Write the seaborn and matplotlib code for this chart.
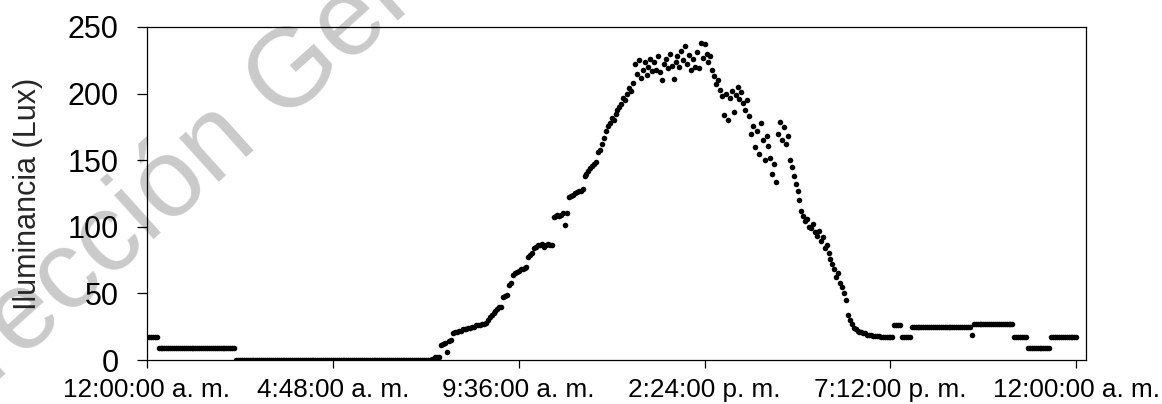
import numpy as np
import pandas as pd
import seaborn as sns
import matplotlib.pyplot as plt

interval_min = 3

lux_night = [17] * 6 + [9] * 40 + [0] * 101  # 0:00 - 7:18

lux_dawn = [1, 1, 2, 2, 2, 11, 12, 13, 6, 14, 15,
            20, 21, 21, 22, 22, 23, 23, 23, 24, 24, 25, 25, 26, 26, 26, 27, 27, 28,
            30, 32, 34, 35, 37, 38, 40, 40,
            47, 48, 49, 56, 58,
            64, 65, 66, 67, 68, 68, 69, 70,
            77, 79, 80]

lux_morning = [84, 85, 86, 86, 87, 85, 86, 87, 86, 86,
               107, 108, 109, 108, 109, 110, 101, 110,
               122, 123, 124, 125, 126, 127, 127, 128,
               138, 140, 142, 144, 146, 147, 149,
               156, 158, 162, 167,
               172, 176, 178, 182, 180, 185, 188, 190,
               192, 197, 195, 200, 204, 202, 208]

lux_peak = [222, 215, 225, 212, 218, 224, 214, 220, 226, 217,
            224, 218, 228, 216, 210, 222, 226, 219, 230, 221, 211, 224, 228,
            220, 232, 225, 236, 222, 229, 218, 226, 220, 231, 219, 238, 227,
            237, 230, 224, 228, 218, 213, 207, 210, 203]

lux_afternoon = [198, 184, 200, 180, 197, 202, 186, 199, 205, 196, 201, 193, 188, 195,
                 183, 170, 176, 160, 172, 155, 178, 165, 150, 168, 161,
                 152, 140, 147, 134,
                 170, 179, 165, 175, 162, 168,
                 150, 145, 138, 132, 127, 120,
                 112, 108, 104, 106, 100, 99, 102, 96, 93, 97, 89, 92, 84, 86,
                 80, 76, 72, 68, 62, 65, 58, 55, 50, 45, 34, 30, 27, 24, 23, 22]

lux_evening = ([21, 21, 20, 20, 19, 19, 19, 18, 18, 18, 18, 17, 17, 17, 17, 17, 17, 17]
               + [26] * 4 + [17] * 5 + [25] * 31 + [19] + [27] * 21
               + [17] * 7 + [9] * 12 + [17] * 14)

tick_hours = [0, 4.8, 9.6, 14.4, 19.2, 24]
tick_labels = ['12:00:00 a. m.', '4:48:00 a. m.', '9:36:00 a. m.',
               '2:24:00 p. m.', '7:12:00 p. m.', '12:00:00 a. m.']
y_ticks = [0, 50, 100, 150, 200, 250]

lux = lux_night + lux_dawn + lux_morning + lux_peak + lux_afternoon + lux_evening
df = pd.DataFrame({'lux': lux})
df['hora'] = np.arange(len(df)) * interval_min / 60

sns.set_style('white')
plt.rcParams['font.family'] = ['Liberation Sans', 'DejaVu Sans']

fig = plt.figure(figsize=(11.62, 4.04), dpi=100)
fig.patch.set_facecolor('white')
ax = fig.add_axes([0.1265, 0.1089, 0.8081, 0.8243])
ax.set_facecolor('none')

# watermark behind the chart (cut by the page edges, as in the source)
fig.text(-0.073, -0.126, 'Dirección General de Bibliotecas', fontsize=80,
         color='#cacaca', rotation=42, rotation_mode='anchor',
         ha='left', va='baseline', zorder=-1)

sns.scatterplot(data=df, x='hora', y='lux', color='black', s=16,
                linewidth=0, ax=ax, zorder=3)

ax.set_xlim(0, 24.25)
ax.set_ylim(0, 250)
ax.set_xticks(tick_hours)
ax.set_xticklabels(tick_labels, fontsize=18.8)
ax.set_yticks(y_ticks)
ax.set_yticklabels([str(v) for v in y_ticks], fontsize=22)
ax.tick_params(axis='x', direction='out', length=6, width=0.9, pad=7, colors='black')
ax.tick_params(axis='y', direction='out', length=7, width=0.9, pad=13.5, colors='black')
ax.tick_params(axis='x', bottom=True)
ax.tick_params(axis='y', left=True)

ax.set_xlabel('')
ax.set_ylabel('Iluminancia (Lux)', fontsize=22)
ax.yaxis.set_label_coords(-0.111, 0.5)

for sp in ax.spines.values():
    sp.set_visible(True)
    sp.set_color('black')
    sp.set_linewidth(0.9)

fig.savefig('out.png', dpi=100)
